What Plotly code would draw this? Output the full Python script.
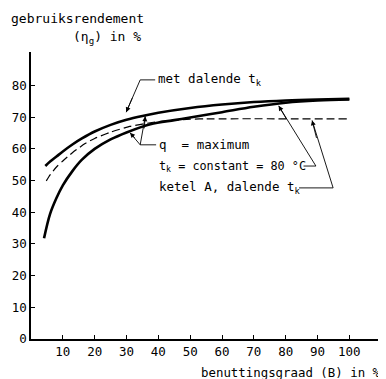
import plotly.graph_objects as go

# --- data ---
x_upper = [4.5, 6, 8, 10, 13, 16, 20, 25, 30, 35, 40, 50, 60, 70, 80, 90, 100]
y_upper = [54.6, 56.0, 57.6, 59.2, 61.4, 63.3, 65.5, 67.6, 69.2, 70.4, 71.4, 72.9, 74.0, 74.8, 75.3, 75.6, 75.8]

x_lower = [4.1, 6, 8, 10, 13, 16, 20, 25, 30, 37.5, 45, 50, 60, 70, 80, 90, 100]
y_lower = [31.8, 39.5, 44.5, 48.5, 53.0, 56.6, 60.0, 63.0, 65.2, 67.8, 69.1, 69.9, 71.6, 73.3, 74.6, 75.3, 75.6]

x_dash = [4.8, 6, 8, 10, 13, 17, 20, 25, 31, 39, 45, 50, 55, 100]
y_dash = [49.9, 51.8, 54.3, 56.2, 58.8, 61.7, 63.3, 65.3, 67.1, 68.5, 69.1, 69.4, 69.5, 69.5]

x_ticks = [10, 20, 30, 40, 50, 60, 70, 80, 90, 100]
y_ticks = [0, 10, 20, 30, 40, 50, 60, 70, 80]

FONT = "DejaVu Sans Mono"

fig = go.Figure()
fig.add_trace(go.Scatter(x=x_upper, y=y_upper, mode="lines",
                         line=dict(color="black", width=2.6, shape="spline", smoothing=1.0)))
fig.add_trace(go.Scatter(x=x_lower, y=y_lower, mode="lines",
                         line=dict(color="black", width=2.6, shape="spline", smoothing=1.0)))
fig.add_trace(go.Scatter(x=x_dash, y=y_dash, mode="lines",
                         line=dict(color="black", width=1.2, dash="8px,4px", shape="spline", smoothing=0.6)))

# leader lines (polylines) and arrows
leaders = [
    ([39.0, 34.3, 29.9], [81.8, 81.8, 71.6]),
    ([39.3, 34.3], [61.3, 61.3]),
    ([34.3, 35.9], [61.3, 70.3]),
    ([34.3, 31.1], [61.3, 65.1]),
    ([85.6, 89.5, 77.8], [54.6, 54.6, 73.6]),
    ([84.2, 94.9, 88.3], [47.7, 47.7, 69.0]),
]
for lx, ly in leaders:
    fig.add_trace(go.Scatter(x=lx, y=ly, mode="lines", line=dict(color="black", width=0.9)))

arrows = [
    (29.9, 71.6, 32.0, 76.5),
    (35.9, 70.3, 35.5, 66.0),
    (31.1, 65.1, 33.0, 63.0),
    (77.8, 73.6, 80.5, 69.0),
    (88.3, 69.0, 89.8, 63.0),
]
annotations = []
for tx, ty, fx, fy in arrows:
    annotations.append(dict(x=tx, y=ty, ax=fx, ay=fy, xref="x", yref="y", axref="x", ayref="y",
                            showarrow=True, arrowhead=2, arrowsize=1.1, arrowwidth=0.9,
                            arrowcolor="black", text=""))

labels = [
    ("met dalende t<sub>k</sub>", 39.4, 81.8, 12.5),
    ("q  = maximum", 39.6, 61.3, 12.5),
    ("t<sub>k</sub> = constant = 80 °C", 39.6, 54.6, 11.8),
    ("ketel A, dalende t<sub>k</sub>", 39.6, 47.7, 12.5),
]
for txt, x, y, fs in labels:
    annotations.append(dict(x=x, y=y, xref="x", yref="y", text=txt, showarrow=False,
                            xanchor="left", yanchor="middle",
                            font=dict(family=FONT, size=fs, color="black")))

annotations += [
    dict(x=-0.062, y=1.115, xref="paper", yref="paper", text="gebruiksrendement",
         showarrow=False, xanchor="left", yanchor="middle",
         font=dict(family=FONT, size=13, color="black")),
    dict(x=0.324, y=1.05, xref="paper", yref="paper", text="(η<sub>g</sub>) in %",
         showarrow=False, xanchor="right", yanchor="middle",
         font=dict(family=FONT, size=13, color="black")),
    dict(x=1.014, y=-0.115, xref="paper", yref="paper", text="benuttingsgraad (B) in %",
         showarrow=False, xanchor="right", yanchor="middle",
         font=dict(family=FONT, size=12.4, color="black")),
]

# page body has an 8px margin: figure is shrunk so the plot sits where the reference has it
fig.update_layout(
    width=378, height=371,
    margin=dict(l=23, r=8, t=44, b=40),
    plot_bgcolor="white", paper_bgcolor="white",
    showlegend=False,
    annotations=annotations,
    font=dict(family=FONT, size=12, color="black"),
)
fig.update_xaxes(range=[0, 109], tickvals=x_ticks, ticktext=[str(v) for v in x_ticks],
                 automargin=False,
                 showgrid=False, zeroline=False, showline=True, linecolor="black", linewidth=1.5,
                 ticks="inside", ticklen=4, tickcolor="black", tickwidth=1,
                 tickfont=dict(family=FONT, size=12.5))
fig.update_yaxes(range=[0, 90.6], tickvals=y_ticks, ticktext=[str(v) for v in y_ticks],
                 automargin=False,
                 showgrid=False, zeroline=False, showline=True, linecolor="black", linewidth=1.5,
                 ticks="inside", ticklen=4, tickcolor="black", tickwidth=1,
                 tickfont=dict(family=FONT, size=12.5))

fig.write_html("out.html")
